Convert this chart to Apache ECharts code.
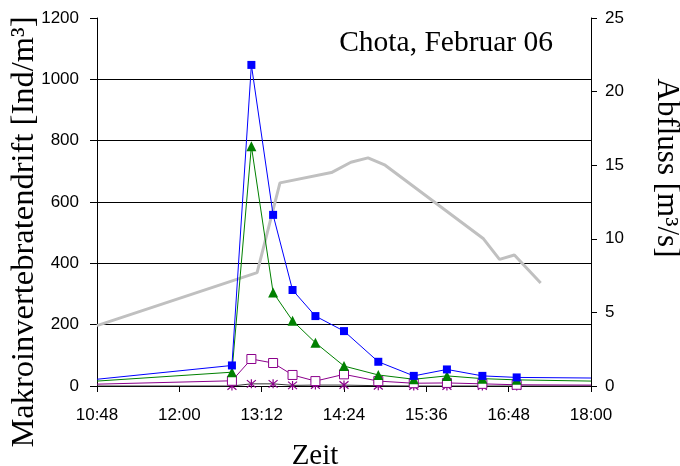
<!DOCTYPE html>
<html>
<head>
<meta charset="utf-8">
<script src="https://cdn.jsdelivr.net/npm/echarts@6/dist/echarts.min.js"></script>
<style>
  html, body { margin: 0; padding: 0; background: #fff; }
  #chart { width: 680px; height: 466px; }
</style>
</head>
<body>
<div id="chart"></div>
<script>
// Sampling times (first and last entries are the line ends at the plot edges)
const sampleTimes = ['10:48', '12:46', '13:03', '13:22', '13:39', '13:59', '14:24', '14:54', '15:25', '15:54', '16:25', '16:55', '18:00'];
// Drift densities [Ind/m³]
const driftBlue   = [22, 67, 1047, 558, 313, 228, 179, 79, 33, 54, 33, 28, 26];
const driftGreen  = [16, 45, 782, 305, 213, 141, 65, 36, 22, 33, 24, 20, 16];
const driftPurple = [6, 17, 88, 75, 36, 16, 38, 16, 9, 10, 7, 4, 3];
const driftStar   = [0, 0, 7, 7, 2, 3, 3, 1, 0, 0, 0, 0, 0];

// Discharge [m³/s]
const flowTimes  = ['10:48', '13:08', '13:28', '14:13', '14:30', '14:45', '15:00', '16:26', '16:40', '16:53', '17:16'];
const flowValues = [4.1, 7.7, 13.8, 14.5, 15.2, 15.5, 15.0, 10.0, 8.6, 8.9, 7.0];

// Axis ticks
const leftTicks  = { min: 0, max: 1200, interval: 200 };
const rightTicks = { min: 0, max: 25, interval: 5 };
const timeTicks  = { min: '10:48', max: '18:00', interval: 72 };

function toMinutes(s) {
  const [h, m] = s.split(':').map(Number);
  return h * 60 + m;
}
function fmtTime(v) {
  const h = Math.floor(v / 60), m = Math.round(v % 60);
  return h + ':' + (m < 10 ? '0' : '') + m;
}
const plain = v => String(v);
const lastIdx = sampleTimes.length - 1;
function pairs(times, values, edgeless) {
  return times.map((t, i) => {
    const item = { value: [toMinutes(t), values[i]] };
    if (edgeless && (i === 0 || i === lastIdx)) item.symbol = 'none';
    return item;
  });
}

const serif = '"Liberation Serif", "DejaVu Serif", serif';
const sans = '"Liberation Sans", Arial, sans-serif';
const starPath = 'path://M0,0L10,10M10,0L0,10M5,-1L5,11';

const chart = echarts.init(document.getElementById('chart'), null, { renderer: 'canvas' });
chart.setOption({
  animation: false,
  backgroundColor: '#fff',
  grid: { left: 97, right: 89, top: 18, bottom: 80, containLabel: false },
  xAxis: {
    type: 'value',
    min: toMinutes(timeTicks.min),
    max: toMinutes(timeTicks.max),
    interval: timeTicks.interval,
    axisLine: { lineStyle: { color: '#000', width: 1 } },
    axisTick: { length: 6, lineStyle: { color: '#000' } },
    axisLabel: { formatter: fmtTime, color: '#000', fontFamily: sans, fontSize: 17, margin: 21 },
    splitLine: { show: false }
  },
  yAxis: [
    {
      type: 'value',
      min: leftTicks.min, max: leftTicks.max, interval: leftTicks.interval,
      axisLine: { show: true, lineStyle: { color: '#000', width: 1 } },
      axisTick: { show: true, length: 7, lineStyle: { color: '#000' } },
      axisLabel: { formatter: plain, color: '#000', fontFamily: sans, fontSize: 17, margin: 18 },
      splitLine: { show: true, showMaxLine: false, lineStyle: { color: '#000', width: 1 } }
    },
    {
      type: 'value',
      min: rightTicks.min, max: rightTicks.max, interval: rightTicks.interval,
      position: 'right',
      axisLine: { show: true, lineStyle: { color: '#000', width: 1 } },
      axisTick: { show: true, length: 6, lineStyle: { color: '#000' } },
      axisLabel: { formatter: plain, color: '#000', fontFamily: sans, fontSize: 17, margin: 14 },
      splitLine: { show: false }
    }
  ],
  series: [
    {
      name: 'Abfluss', type: 'line', yAxisIndex: 1, symbol: 'none',
      data: pairs(flowTimes, flowValues, false),
      lineStyle: { color: '#c0c0c0', width: 3 }, z: 1
    },
    {
      name: 'Drift 4', type: 'line', symbol: starPath, symbolSize: 9,
      data: pairs(sampleTimes, driftStar, true),
      lineStyle: { color: '#333', width: 1 },
      itemStyle: { color: 'none', borderColor: '#8b008b', borderWidth: 1.2 }, z: 3
    },
    {
      name: 'Drift 3', type: 'line', symbol: 'rect', symbolSize: 9,
      data: pairs(sampleTimes, driftPurple, true),
      lineStyle: { color: '#8b008b', width: 1 },
      itemStyle: { color: '#fff', borderColor: '#8b008b', borderWidth: 1 }, z: 4
    },
    {
      name: 'Drift 2', type: 'line', symbol: 'triangle', symbolSize: 10,
      data: pairs(sampleTimes, driftGreen, true),
      lineStyle: { color: '#008000', width: 1 },
      itemStyle: { color: '#008000' }, z: 5
    },
    {
      name: 'Drift 1', type: 'line', symbol: 'rect', symbolSize: 8,
      data: pairs(sampleTimes, driftBlue, true),
      lineStyle: { color: '#0000ff', width: 1 },
      itemStyle: { color: '#0000ff' }, z: 6
    }
  ],
  graphic: [
    {
      type: 'text', x: 553, y: 43,
      style: { text: 'Chota, Februar 06', font: '29.5px ' + serif, fill: '#000', align: 'right', verticalAlign: 'middle' }
    },
    {
      type: 'text', x: 24, y: 232, rotation: Math.PI / 2,
      style: { text: 'Makroinvertebratendrift [Ind/m³]', font: '32.5px ' + serif, fill: '#000', align: 'center', verticalAlign: 'middle' }
    },
    {
      type: 'text', x: 666, y: 168, rotation: -Math.PI / 2,
      style: { text: 'Abfluss [m³/s]', font: '31px ' + serif, fill: '#000', align: 'center', verticalAlign: 'middle' }
    },
    {
      type: 'text', x: 315, y: 456,
      style: { text: 'Zeit', font: '29px ' + serif, fill: '#000', align: 'center', verticalAlign: 'middle' }
    }
  ]
});
</script>
</body>
</html>
